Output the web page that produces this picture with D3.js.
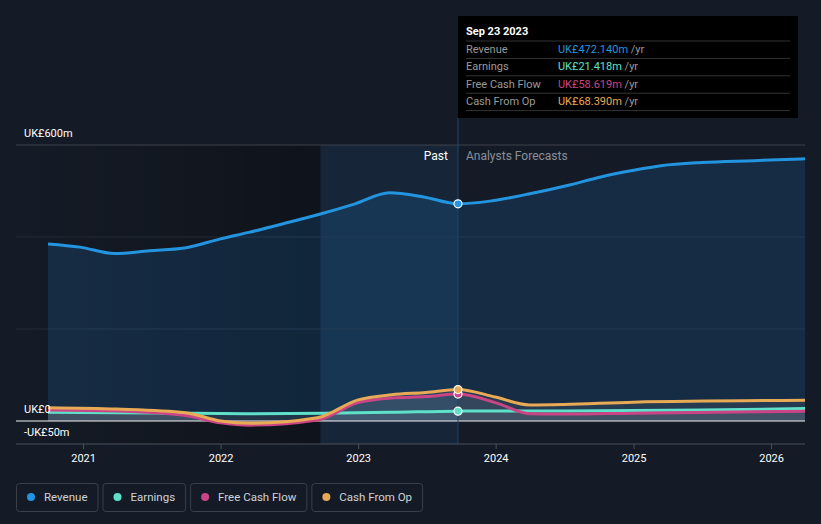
<!DOCTYPE html>
<html>
<head>
<meta charset="utf-8">
<script src="https://cdn.jsdelivr.net/npm/d3@7"></script>
<style>
  html, body { margin: 0; padding: 0; background: #151b26; }
  svg { display: block; font-family: Roboto, "Noto Sans", sans-serif; }
</style>
</head>
<body>
<svg id="chart" width="821" height="524"></svg>
<script>
// valores em milhões de UK£
const revDates = ['2020-09-30','2020-12-24','2021-03-25','2021-06-26','2021-09-27','2022-01-01','2022-03-17','2022-07-01','2022-09-23','2022-12-24','2023-03-25','2023-06-24','2023-09-23','2023-12-17','2024-04-01','2024-07-15','2024-10-03','2025-01-01','2025-03-15','2025-07-01','2025-11-15','2026-04-01'];
const revenue  = [385, 378, 364, 370, 376, 396, 410, 432, 450, 472, 496, 487, 472.14, 478, 494, 513, 530, 545, 555, 562, 566, 570];

const earnDates = ['2020-09-30','2021-03-31','2021-09-30','2022-03-31','2022-09-30','2023-03-31','2023-09-23','2024-06-30','2025-06-30','2026-04-01'];
const earnings  = [19, 18, 17, 16, 17, 19, 21.418, 22, 24, 27];

const cfDates = ['2020-09-30','2021-03-31','2021-09-30','2022-01-01','2022-03-20','2022-09-15','2023-01-01','2023-03-31','2023-06-30','2023-09-23','2023-12-31','2024-03-31','2024-06-30','2025-01-01','2026-04-01'];
const fcf = [24, 22, 12, -4, -9, 2, 40, 50, 53, 58.619, 40, 16, 15, 17, 21];
const cfo = [29, 26, 18, 0, -5, 7, 46, 57, 62, 68.39, 52, 35, 36, 41, 45];

const yTicks = [600, 0, -50];
const yTickLabels = ['UK£600m', 'UK£0', '-UK£50m'];
const gridVals = [400, 200];
const xTickYears = [2021, 2022, 2023, 2024, 2025, 2026];

const tipDate = '2023-09-23';
const tipTitle = 'Sep 23 2023';
const tipRows = [
  { name: 'Revenue', value: 'UK£472.140m', color: '#2394df' },
  { name: 'Earnings', value: 'UK£21.418m', color: '#5fe0c9' },
  { name: 'Free Cash Flow', value: 'UK£58.619m', color: '#c94585' },
  { name: 'Cash From Op', value: 'UK£68.390m', color: '#e9aa55' }
];

const parse = d3.timeParse('%Y-%m-%d');
const svg = d3.select('#chart');

const x = d3.scaleTime()
  .domain([parse('2020-07-07'), parse('2026-04-01')])
  .range([16, 805]);
const y = d3.scaleLinear().domain([-50, 600]).range([444, 145]);

const tipX = x(parse(tipDate));
const bandX = x(parse('2022-09-23'));

const defs = svg.append('defs');
const g1 = defs.append('linearGradient').attr('id', 'pastGrad').attr('x1', 0).attr('x2', 1);
g1.append('stop').attr('offset', 0).attr('stop-color', '#000').attr('stop-opacity', 0);
g1.append('stop').attr('offset', 1).attr('stop-color', '#000').attr('stop-opacity', 0.3);

// região passada escura + faixa destacada
svg.append('rect').attr('x', 16).attr('y', 145).attr('width', bandX - 16).attr('height', 299)
  .attr('fill', 'url(#pastGrad)');
svg.append('rect').attr('x', bandX).attr('y', 145).attr('width', tipX - bandX).attr('height', 299)
  .attr('fill', 'rgba(33,150,243,0.09)');

// grades
svg.selectAll('.grid').data(gridVals).enter().append('line')
  .attr('x1', 16).attr('x2', 805).attr('y1', d => y(d)).attr('y2', d => y(d))
  .attr('stroke', '#242b37').attr('stroke-width', 1);
svg.append('line').attr('x1', 16).attr('x2', 805).attr('y1', y(600)).attr('y2', y(600))
  .attr('stroke', '#3c414b').attr('stroke-width', 1);

const toPts = (dates, vals) => dates.map((d, i) => ({ date: parse(d), v: vals[i] }));
const revPts = toPts(revDates, revenue);
const earnPts = toPts(earnDates, earnings);
const fcfPts = toPts(cfDates, fcf);
const cfoPts = toPts(cfDates, cfo);

const area = d3.area().x(d => x(d.date)).y0(y(0)).y1(d => y(d.v)).curve(d3.curveMonotoneX);
const line = d3.line().x(d => x(d.date)).y(d => y(d.v)).curve(d3.curveMonotoneX);

svg.append('path').attr('d', area(revPts)).attr('fill', 'rgba(33,150,243,0.15)');
[cfoPts, fcfPts, earnPts].forEach(p => {
  svg.append('path').attr('d', area(p)).attr('fill', 'rgba(200,205,215,0.09)');
});

// linha do zero e eixo
svg.append('line').attr('x1', 16).attr('x2', 805).attr('y1', y(0)).attr('y2', y(0))
  .attr('stroke', '#f0f0f0').attr('stroke-width', 1);
svg.append('line').attr('x1', 16).attr('x2', 805).attr('y1', 444).attr('y2', 444)
  .attr('stroke', '#4a4f58').attr('stroke-width', 1);

const series = [
  { pts: earnPts, color: '#5fe0c9' },
  { pts: fcfPts, color: '#c94585' },
  { pts: cfoPts, color: '#e9aa55' },
  { pts: revPts, color: '#2394df' }
];
series.forEach(s => {
  svg.append('path').attr('d', line(s.pts)).attr('fill', 'none')
    .attr('stroke', s.color).attr('stroke-width', 3).attr('stroke-linejoin', 'round');
});

// linha vertical do "hoje"
svg.append('line').attr('x1', tipX).attr('x2', tipX).attr('y1', 118).attr('y2', 444)
  .attr('stroke', '#1f4468').attr('stroke-width', 1);

svg.append('text').attr('x', tipX - 10).attr('y', 160).attr('text-anchor', 'end')
  .attr('fill', '#ffffff').attr('font-size', 12).text('Past');
svg.append('text').attr('x', tipX + 8).attr('y', 160)
  .attr('fill', '#8a8f98').attr('font-size', 12).text('Analysts Forecasts');

// pontos
const dotVals = [revenue[revDates.indexOf(tipDate)], earnings[earnDates.indexOf(tipDate)],
  fcf[cfDates.indexOf(tipDate)], cfo[cfDates.indexOf(tipDate)]];
const dotColors = ['#2394df', '#5fe0c9', '#c94585', '#e9aa55'];
[1, 2, 3, 0].forEach(i => {
  svg.append('circle').attr('cx', tipX).attr('cy', y(dotVals[i])).attr('r', 4)
    .attr('fill', dotColors[i]).attr('stroke', '#fff').attr('stroke-width', 1.2);
});

// rótulos do eixo y
svg.selectAll('.ylab').data(yTicks).enter().append('text')
  .attr('x', 24).attr('y', d => y(d) - 8)
  .attr('fill', '#fff').attr('font-size', 11)
  .text((d, i) => yTickLabels[i]);

// eixo x
const xAxis = svg.append('g').attr('transform', 'translate(0,444)')
  .call(d3.axisBottom(x).tickValues(xTickYears.map(yr => new Date(yr, 0, 1)))
    .tickFormat(d3.timeFormat('%Y')).tickSize(5).tickPadding(5));
xAxis.select('.domain').remove();
xAxis.selectAll('line').attr('stroke', '#4a4f58');
xAxis.selectAll('text').attr('fill', '#fff').attr('font-size', 11)
  .attr('font-family', 'Roboto, sans-serif');

// tooltip
const tip = svg.append('g');
tip.append('rect').attr('x', tipX).attr('y', 16).attr('width', 340).attr('height', 102).attr('fill', '#000');
tip.append('text').attr('x', tipX + 8).attr('y', 35).attr('fill', '#fff')
  .attr('font-size', 11).attr('font-weight', 'bold').text(tipTitle);
tipRows.forEach((r, i) => {
  const yy = 41 + i * 17.4;
  tip.append('line').attr('x1', tipX + 8).attr('x2', tipX + 332).attr('y1', yy).attr('y2', yy)
    .attr('stroke', '#333').attr('stroke-width', 1);
  tip.append('text').attr('x', tipX + 8).attr('y', yy + 12).attr('fill', '#9a9a9a')
    .attr('font-size', 11).text(r.name);
  const t = tip.append('text').attr('x', tipX + 100).attr('y', yy + 12).attr('font-size', 11);
  t.append('tspan').attr('fill', r.color).text(r.value);
  t.append('tspan').attr('fill', '#9a9a9a').text(' /yr');
});
tip.append('line').attr('x1', tipX + 8).attr('x2', tipX + 332).attr('y1', 41 + 4 * 17.4).attr('y2', 41 + 4 * 17.4)
  .attr('stroke', '#333').attr('stroke-width', 1);

// legenda
let lx = 16;
tipRows.forEach(r => {
  const g = svg.append('g');
  const txt = g.append('text').attr('x', lx + 28).attr('y', 501).attr('fill', '#d0d3d8')
    .attr('font-size', 11.5).text(r.name);
  const w = txt.node().getComputedTextLength() + 38;
  g.insert('rect', 'text').attr('x', lx + 0.5).attr('y', 483.5).attr('width', w).attr('height', 28)
    .attr('rx', 3).attr('fill', 'none').attr('stroke', '#3a3f48');
  g.append('circle').attr('cx', lx + 15).attr('cy', 497).attr('r', 4).attr('fill', r.color);
  lx += w + 5;
});
</script>
</body>
</html>
